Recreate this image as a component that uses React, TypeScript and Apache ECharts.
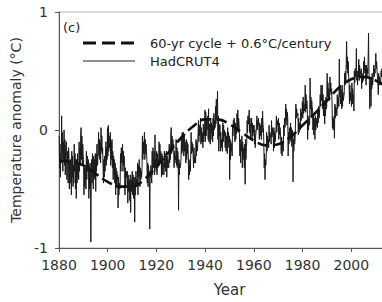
import React, { useEffect, useRef } from "react";
import * as echarts from "echarts";

const startYear = 1880;
// HadCRUT4 anomaly (°C), six readings per year
const hadcrut: number[][] = [
  [-0.05, -0.32, -0.12, -0.40, -0.20, -0.28], // 1880
  [0.12, -0.20, -0.02, -0.35, -0.10, -0.25],
  [0.00, -0.30, -0.08, -0.38, -0.15, -0.12],
  [-0.10, -0.42, -0.18, -0.30, -0.45, -0.15],
  [-0.20, -0.50, -0.28, -0.45, -0.25, -0.40],
  [-0.55, -0.18, -0.40, -0.22, -0.48, -0.30],
  [-0.45, -0.12, -0.35, -0.20, -0.50, -0.25],
  [-0.58, -0.25, -0.45, -0.20, -0.40, -0.30],
  [-0.42, -0.10, -0.35, -0.15, -0.30, -0.02],
  [0.02, -0.25, -0.05, -0.30, -0.12, -0.22],
  [-0.25, -0.55, -0.32, -0.48, -0.30, -0.45], // 1890
  [-0.50, -0.18, -0.42, -0.22, -0.35, -0.28],
  [-0.25, -0.58, -0.30, -0.50, -0.28, -0.40],
  [-0.95, -0.35, -0.25, -0.45, -0.20, -0.38],
  [-0.50, -0.22, -0.40, -0.25, -0.42, -0.20],
  [-0.52, -0.20, -0.35, -0.12, -0.30, -0.28],
  [-0.28, -0.02, -0.22, -0.08, -0.25, -0.10],
  [-0.28, 0.02, -0.18, -0.05, -0.20, -0.15],
  [-0.15, -0.45, -0.25, -0.40, -0.22, -0.35],
  [-0.35, -0.10, -0.30, -0.15, -0.25, 0.02],
  [-0.22, 0.04, -0.18, -0.05, -0.15, -0.10], // 1900
  [-0.02, -0.30, -0.10, -0.25, -0.08, -0.32],
  [-0.18, -0.42, -0.22, -0.38, -0.25, -0.45],
  [-0.28, -0.55, -0.32, -0.48, -0.35, -0.42],
  [-0.38, -0.66, -0.40, -0.55, -0.45, -0.50],
  [-0.48, -0.20, -0.35, -0.15, -0.28, -0.25],
  [-0.12, -0.35, -0.18, -0.30, -0.22, -0.28],
  [-0.55, -0.32, -0.48, -0.35, -0.40, -0.38],
  [-0.35, -0.62, -0.38, -0.52, -0.42, -0.45],
  [-0.60, -0.38, -0.70, -0.42, -0.52, -0.40],
  [-0.35, -0.55, -0.38, -0.58, -0.40, -0.45], // 1910
  [-0.78, -0.40, -0.55, -0.35, -0.48, -0.42],
  [-0.48, -0.28, -0.55, -0.30, -0.40, -0.25],
  [-0.25, -0.48, -0.32, -0.42, -0.35, -0.40],
  [-0.32, -0.05, -0.25, -0.10, -0.20, -0.12],
  [-0.02, -0.25, -0.08, -0.20, -0.12, -0.18],
  [-0.25, -0.45, -0.28, -0.48, -0.30, -0.38],
  [-0.35, -0.84, -0.42, -0.38, -0.30, -0.40],
  [-0.45, -0.18, -0.38, -0.15, -0.32, -0.28],
  [-0.18, -0.38, -0.04, -0.32, -0.25, -0.35],
  [-0.18, -0.38, -0.20, -0.32, -0.25, -0.30], // 1920
  [-0.10, -0.30, -0.12, -0.28, -0.18, -0.22],
  [-0.40, -0.20, -0.38, -0.22, -0.30, -0.28],
  [-0.38, -0.18, -0.32, -0.20, -0.35, -0.25],
  [-0.18, -0.40, -0.22, -0.32, -0.25, -0.30],
  [-0.32, -0.12, -0.28, -0.15, -0.25, -0.02],
  [0.02, -0.20, -0.05, -0.18, -0.08, -0.15],
  [-0.12, -0.32, -0.18, -0.28, -0.22, -0.25],
  [-0.08, -0.30, -0.15, -0.32, -0.18, -0.22],
  [-0.68, -0.25, -0.38, -0.28, -0.32, -0.30],
  [-0.25, -0.08, -0.20, -0.02, -0.18, -0.12], // 1930
  [-0.02, -0.22, -0.05, -0.18, -0.10, -0.15],
  [-0.28, -0.08, -0.25, -0.10, -0.20, -0.12],
  [-0.22, -0.42, -0.25, -0.38, -0.30, -0.35],
  [-0.22, -0.02, -0.20, -0.10, -0.18, -0.12],
  [-0.12, -0.32, -0.15, -0.28, -0.25, -0.22],
  [-0.28, -0.08, -0.22, -0.10, -0.18, -0.15],
  [-0.15, 0.08, -0.10, 0.04, -0.05, 0.00],
  [0.10, -0.12, 0.02, -0.10, -0.02, -0.06],
  [-0.15, 0.05, -0.10, 0.00, -0.05, 0.17],
  [-0.10, 0.15, -0.05, 0.10, 0.00, 0.08], // 1940
  [0.12, -0.08, 0.18, -0.10, 0.05, 0.02],
  [-0.12, 0.08, -0.08, 0.06, -0.02, 0.04],
  [-0.10, 0.10, -0.05, 0.14, 0.00, 0.08],
  [0.02, 0.20, 0.05, 0.26, 0.10, 0.15],
  [0.33, -0.08, 0.12, -0.18, 0.05, -0.05],
  [0.04, -0.18, -0.02, -0.15, -0.08, -0.10],
  [-0.18, 0.06, -0.10, 0.04, -0.05, 0.00],
  [0.00, -0.15, -0.02, -0.18, -0.05, -0.08],
  [-0.20, 0.02, -0.15, -0.02, -0.10, -0.05],
  [-0.42, -0.08, -0.25, -0.10, -0.18, -0.12], // 1950
  [-0.22, 0.04, -0.05, 0.08, 0.02, 0.10],
  [0.10, -0.10, 0.06, -0.08, 0.02, -0.03],
  [0.14, 0.00, 0.17, -0.02, 0.10, 0.05],
  [-0.02, -0.22, -0.08, -0.28, -0.12, -0.18],
  [-0.05, -0.32, -0.10, -0.25, -0.15, -0.20],
  [-0.32, -0.12, -0.46, -0.08, -0.25, -0.15],
  [-0.10, 0.08, -0.02, 0.12, 0.05, 0.10],
  [0.17, -0.02, 0.10, -0.08, 0.05, 0.02],
  [0.10, -0.08, 0.06, -0.05, 0.04, -0.02],
  [0.04, -0.12, 0.00, -0.15, -0.05, -0.02], // 1960
  [-0.02, 0.12, 0.00, 0.08, 0.04, 0.10],
  [0.10, -0.08, 0.06, -0.05, 0.04, 0.00],
  [-0.08, 0.10, -0.02, 0.16, 0.05, 0.02],
  [-0.10, -0.32, -0.20, -0.42, -0.25, -0.30],
  [-0.22, -0.02, -0.18, -0.05, -0.12, -0.08],
  [-0.15, 0.04, -0.10, -0.02, -0.06, -0.04],
  [-0.12, 0.08, -0.06, 0.02, -0.04, 0.00],
  [-0.18, 0.02, -0.15, -0.02, -0.10, -0.05],
  [0.00, 0.12, -0.02, 0.08, 0.04, 0.06],
  [0.10, -0.08, 0.06, -0.04, 0.02, -0.02], // 1970
  [-0.02, -0.20, -0.06, -0.22, -0.10, -0.12],
  [-0.18, 0.04, -0.05, 0.10, 0.02, 0.06],
  [0.22, 0.08, 0.18, 0.04, 0.15, 0.10],
  [-0.22, -0.02, -0.12, 0.02, -0.08, -0.05],
  [0.06, -0.10, 0.02, -0.14, 0.00, -0.04],
  [-0.44, -0.08, -0.18, -0.02, -0.12, -0.08],
  [0.05, 0.22, 0.10, 0.18, 0.14, 0.12],
  [0.14, -0.04, 0.10, -0.02, 0.06, 0.02],
  [0.00, 0.18, 0.08, 0.15, 0.12, 0.24],
  [0.10, 0.28, 0.14, 0.22, 0.16, 0.20], // 1980
  [0.38, 0.15, 0.30, 0.18, 0.25, 0.20],
  [-0.08, 0.12, 0.00, 0.10, 0.04, 0.06],
  [0.44, 0.18, 0.28, 0.12, 0.25, 0.20],
  [0.18, 0.00, 0.12, -0.04, 0.10, 0.05],
  [-0.08, 0.12, 0.00, 0.10, 0.04, 0.06],
  [0.02, 0.18, 0.06, 0.20, 0.10, 0.12],
  [0.12, 0.30, 0.20, 0.38, 0.25, 0.28],
  [0.38, 0.18, 0.30, 0.12, 0.25, 0.22],
  [0.05, 0.25, 0.12, 0.28, 0.18, 0.20],
  [0.48, 0.28, 0.40, 0.25, 0.35, 0.32], // 1990
  [0.25, 0.45, 0.32, 0.40, 0.30, 0.35],
  [0.25, 0.02, 0.12, 0.00, 0.10, 0.08],
  [-0.07, 0.22, 0.10, 0.20, 0.15, 0.18],
  [0.12, 0.30, 0.18, 0.28, 0.22, 0.20],
  [0.60, 0.28, 0.38, 0.22, 0.35, 0.30],
  [0.18, 0.38, 0.20, 0.32, 0.25, 0.28],
  [0.30, 0.48, 0.38, 0.50, 0.42, 0.56],
  [0.75, 0.52, 0.62, 0.48, 0.58, 0.45],
  [0.42, 0.22, 0.38, 0.25, 0.32, 0.28],
  [0.20, 0.40, 0.22, 0.35, 0.28, 0.30], // 2000
  [0.16, 0.50, 0.40, 0.52, 0.45, 0.48],
  [0.69, 0.42, 0.50, 0.38, 0.48, 0.45],
  [0.60, 0.42, 0.55, 0.45, 0.50, 0.48],
  [0.52, 0.35, 0.48, 0.40, 0.45, 0.42],
  [0.58, 0.48, 0.62, 0.50, 0.55, 0.45],
  [0.38, 0.55, 0.45, 0.52, 0.48, 0.60],
  [0.82, 0.50, 0.42, 0.18, 0.40, 0.45],
  [0.20, 0.45, 0.35, 0.48, 0.38, 0.42],
  [0.42, 0.55, 0.45, 0.52, 0.48, 0.58],
  [0.65, 0.52, 0.58, 0.50, 0.45, 0.40], // 2010
  [0.30, 0.48, 0.38, 0.45, 0.42, 0.40],
  [0.38, 0.50, 0.45, 0.52, 0.48, 0.42],
];

// 60-yr cycle + 0.6°C/century curve
const cycleYears = [1880, 1885, 1890, 1895, 1900, 1905, 1910, 1915, 1920, 1925, 1930, 1935, 1940, 1945, 1950, 1955, 1960, 1965, 1970, 1975, 1980, 1985, 1990, 1995, 2000, 2005, 2010, 2015];
const cycleValues = [-0.26, -0.27, -0.30, -0.37, -0.44, -0.48, -0.48, -0.42, -0.31, -0.19, -0.07, 0.03, 0.09, 0.09, 0.05, -0.02, -0.09, -0.13, -0.12, -0.06, 0.04, 0.14, 0.25, 0.36, 0.43, 0.45, 0.42, 0.36];

const xTicks = [1880, 1900, 1920, 1940, 1960, 1980, 2000];
const yTicks = [-1, 0, 1];

const FONT = "'DejaVu Sans', Verdana, sans-serif";

export default function App() {
  const ref = useRef<HTMLDivElement>(null);
  useEffect(() => {
    if (!ref.current) return;
    const chart = echarts.init(ref.current, undefined, { renderer: "svg" });
    const hadData: number[][] = [];
    hadcrut.forEach((row, i) => {
      row.forEach((v, k) => {
        hadData.push([startYear + i + k / row.length + 0.5 / row.length, v]);
      });
    });
    const cycleData = cycleYears.map((y, i) => [y, cycleValues[i]]);
    chart.setOption({
      animation: false,
      backgroundColor: "#ffffff",
      grid: {
        left: 59,
        top: 12,
        bottom: 51,
        right: 0,
        show: true,
        borderColor: "#b0b0b0",
        borderWidth: 1,
      },
      xAxis: {
        type: "value",
        min: 1880,
        max: 2020,
        interval: 20,
        splitLine: { show: false },
        axisLine: { show: true, onZero: false, lineStyle: { color: "#555", width: 1 } },
        axisTick: { show: true, inside: false, length: 4, lineStyle: { color: "#555" } },
        axisLabel: {
          fontSize: 14,
          color: "#333",
          fontFamily: FONT,
          margin: 10,
          formatter: (v: number) => (xTicks.includes(v) ? String(v) : ""),
        },
        name: "Year",
        nameLocation: "middle",
        nameGap: 34,
        nameTextStyle: { fontSize: 15, color: "#333", fontFamily: FONT },
      },
      yAxis: {
        type: "value",
        min: -1,
        max: 1,
        interval: 1,
        splitLine: { show: false },
        axisLine: { show: true, onZero: false, lineStyle: { color: "#555", width: 1 } },
        axisTick: { show: true, inside: false, length: 4, lineStyle: { color: "#555" } },
        axisLabel: {
          fontSize: 14,
          color: "#333",
          fontFamily: FONT,
          margin: 11,
          formatter: (v: number) => (yTicks.includes(v) ? String(v) : ""),
        },
        name: "Temperature anomaly (°C)",
        nameLocation: "middle",
        nameGap: 34,
        nameRotate: 90,
        nameTextStyle: { fontSize: 14, color: "#333", fontFamily: FONT },
      },
      series: [
        {
          type: "line",
          name: "HadCRUT4",
          data: hadData,
          showSymbol: false,
          symbol: "none",
          lineStyle: { color: "#1a1a1a", width: 1 },
          z: 2,
        },
        {
          type: "line",
          name: "60-yr cycle + 0.6°C/century",
          data: cycleData,
          showSymbol: false,
          symbol: "none",
          smooth: 0.4,
          lineStyle: { color: "#111", width: 2.6, type: [11, 5] },
          z: 3,
        },
      ],
      graphic: [
        {
          type: "text",
          x: 63,
          y: 27,
          style: { text: "(c)", fontSize: 13, fill: "#222", fontFamily: FONT, verticalAlign: "middle" },
        },
        {
          type: "line",
          shape: { x1: 83, y1: 43, x2: 135, y2: 43 },
          style: { stroke: "#111", lineWidth: 2.8, lineDash: [13, 6] },
        },
        {
          type: "text",
          x: 150,
          y: 43,
          style: { text: "60-yr cycle + 0.6°C/century", fontSize: 13, fill: "#222", fontFamily: FONT, verticalAlign: "middle" },
        },
        {
          type: "line",
          shape: { x1: 83, y1: 61, x2: 135, y2: 61 },
          style: { stroke: "#222", lineWidth: 1 },
        },
        {
          type: "text",
          x: 150,
          y: 61,
          style: { text: "HadCRUT4", fontSize: 13, fill: "#222", fontFamily: FONT, verticalAlign: "middle" },
        },
      ],
    });
    return () => chart.dispose();
  }, []);
  return (
    <div
      ref={ref}
      style={{ position: "fixed", left: 0, top: 0, width: 403, height: 302 }}
    />
  );
}
